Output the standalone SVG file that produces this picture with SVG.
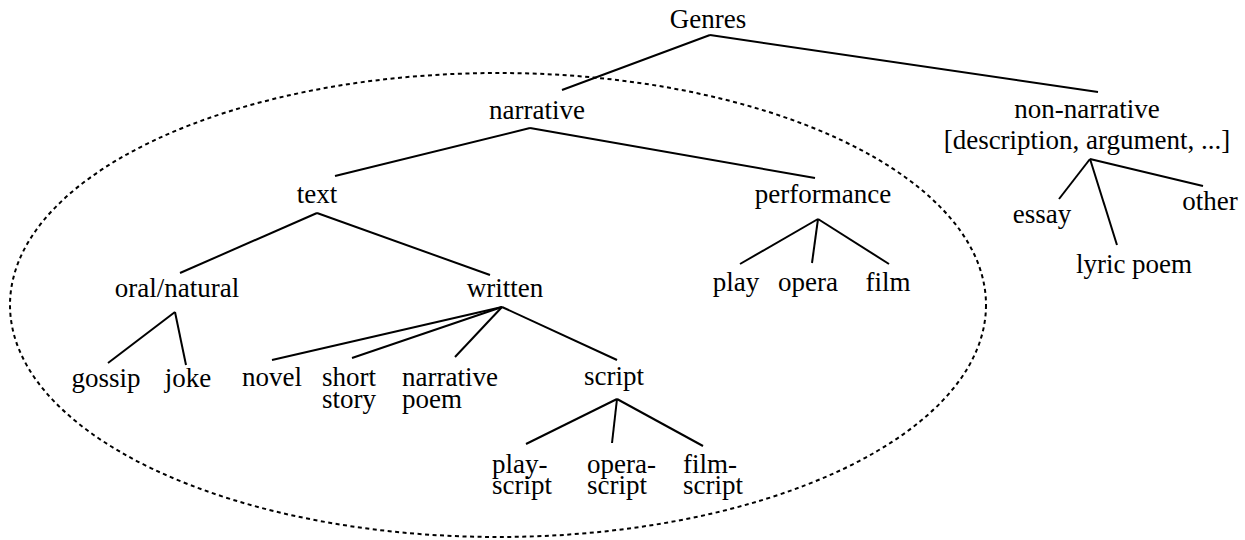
<svg xmlns="http://www.w3.org/2000/svg" width="1245" height="540" viewBox="0 0 1245 540">
<rect width="1245" height="540" fill="#fff"/>
<ellipse cx="498" cy="305" rx="488" ry="232" fill="none" stroke="#000" stroke-width="2" stroke-dasharray="4 3.5"/>
<g id="connectors" stroke="#000" stroke-width="2" fill="none">
<line x1="710" y1="35" x2="562" y2="90"/>
<line x1="710" y1="35" x2="1098" y2="92"/>
<line x1="530" y1="128" x2="335" y2="176"/>
<line x1="530" y1="128" x2="815" y2="178"/>
<line x1="317" y1="213" x2="180" y2="273"/>
<line x1="317" y1="213" x2="490" y2="275"/>
<line x1="175" y1="312" x2="108" y2="363"/>
<line x1="175" y1="312" x2="186" y2="365"/>
<line x1="502" y1="307" x2="272" y2="360"/>
<line x1="502" y1="307" x2="352" y2="358"/>
<line x1="502" y1="307" x2="455" y2="357"/>
<line x1="502" y1="307" x2="617" y2="360"/>
<line x1="617" y1="399" x2="526" y2="444"/>
<line x1="617" y1="399" x2="612" y2="443"/>
<line x1="617" y1="399" x2="703" y2="446"/>
<line x1="818" y1="219" x2="740" y2="264"/>
<line x1="818" y1="219" x2="812" y2="263"/>
<line x1="818" y1="219" x2="889" y2="264"/>
<line x1="1090" y1="159" x2="1059" y2="199"/>
<line x1="1090" y1="159" x2="1117" y2="245"/>
<line x1="1090" y1="159" x2="1203" y2="186"/>
</g>
<g id="genres"><text x="708" y="28" font-size="27" font-family="Liberation Serif" text-anchor="middle">Genres</text></g>
<g id="narrative"><text x="537" y="119" font-size="27" font-family="Liberation Serif" text-anchor="middle">narrative</text></g>
<g id="non-narrative"><text x="1087" y="118" font-size="27" font-family="Liberation Serif" text-anchor="middle">non-narrative</text><text x="1087" y="149" font-size="27" font-family="Liberation Serif" text-anchor="middle">[description, argument, ...]</text></g>
<g id="text"><text x="317" y="203" font-size="27" font-family="Liberation Serif" text-anchor="middle">text</text></g>
<g id="performance"><text x="823" y="203" font-size="27" font-family="Liberation Serif" text-anchor="middle">performance</text></g>
<g id="oral-natural"><text x="177" y="297" font-size="27" font-family="Liberation Serif" text-anchor="middle">oral/natural</text></g>
<g id="written"><text x="505" y="297" font-size="27" font-family="Liberation Serif" text-anchor="middle">written</text></g>
<g id="play"><text x="736" y="291" font-size="27" font-family="Liberation Serif" text-anchor="middle">play</text></g>
<g id="opera"><text x="808" y="291" font-size="27" font-family="Liberation Serif" text-anchor="middle">opera</text></g>
<g id="film"><text x="888" y="291" font-size="27" font-family="Liberation Serif" text-anchor="middle">film</text></g>
<g id="essay"><text x="1042" y="223" font-size="27" font-family="Liberation Serif" text-anchor="middle">essay</text></g>
<g id="other"><text x="1210" y="210" font-size="27" font-family="Liberation Serif" text-anchor="middle">other</text></g>
<g id="lyric-poem"><text x="1134" y="273" font-size="27" font-family="Liberation Serif" text-anchor="middle">lyric poem</text></g>
<g id="gossip"><text x="106" y="387" font-size="27" font-family="Liberation Serif" text-anchor="middle">gossip</text></g>
<g id="joke"><text x="188" y="387" font-size="27" font-family="Liberation Serif" text-anchor="middle">joke</text></g>
<g id="novel"><text x="272" y="386" font-size="27" font-family="Liberation Serif" text-anchor="middle">novel</text></g>
<g id="script"><text x="614" y="385" font-size="27" font-family="Liberation Serif" text-anchor="middle">script</text></g>
<g id="short-story"><text x="322" y="386" font-size="27" font-family="Liberation Serif">short</text><text x="322" y="408" font-size="27" font-family="Liberation Serif">story</text></g>
<g id="narrative-poem"><text x="402" y="386" font-size="27" font-family="Liberation Serif">narrative</text><text x="402" y="408" font-size="27" font-family="Liberation Serif">poem</text></g>
<g id="play-script"><text x="492" y="473" font-size="27" font-family="Liberation Serif">play-</text><text x="492" y="494" font-size="27" font-family="Liberation Serif">script</text></g>
<g id="opera-script"><text x="587" y="473" font-size="27" font-family="Liberation Serif">opera-</text><text x="587" y="494" font-size="27" font-family="Liberation Serif">script</text></g>
<g id="film-script"><text x="683" y="473" font-size="27" font-family="Liberation Serif">film-</text><text x="683" y="494" font-size="27" font-family="Liberation Serif">script</text></g>
</svg>
